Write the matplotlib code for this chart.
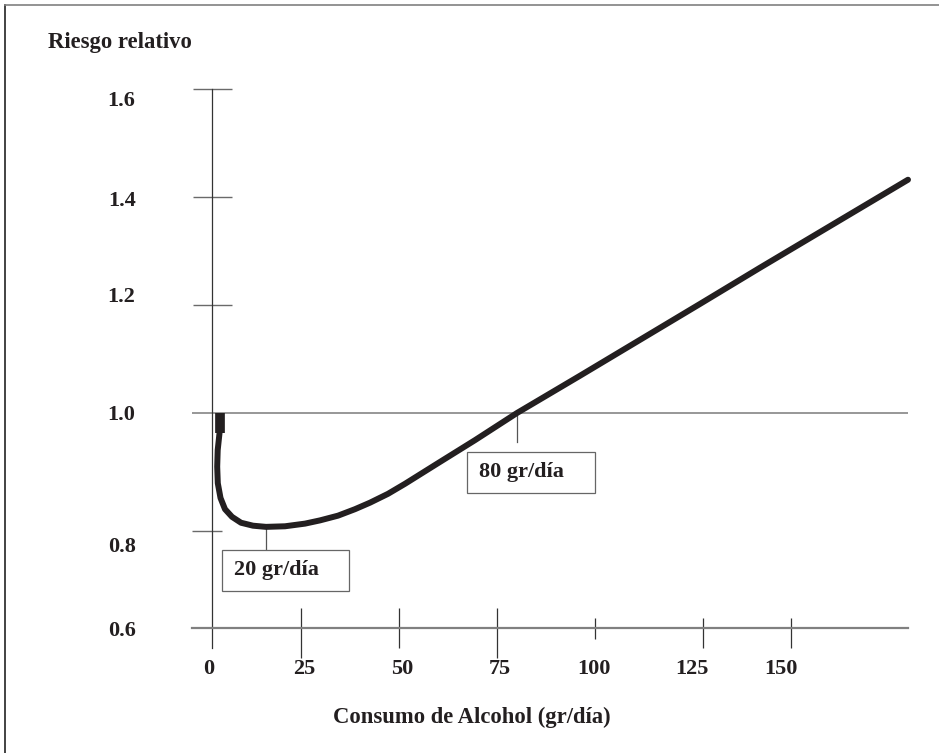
import numpy as np
import matplotlib
matplotlib.use('Agg')
import matplotlib.pyplot as plt
from matplotlib.patches import Rectangle
from matplotlib.lines import Line2D
from matplotlib.transforms import ScaledTranslation

#========================= data =========================

# curve: first pair is the thick square start at RR = 1.0
consumo = [2.11, 2.11, 1.60, 1.46, 1.63, 2.39, 3.65, 5.62, 8.15, 11.52, 15.17,
           20.51, 26.02, 29.85, 34.44, 38.78, 42.60, 47.19, 51.53, 59.95, 69.39,
           80.10, 96.17, 124.31, 141.19, 183.24]
riesgo = [1.000, 0.966, 0.937, 0.909, 0.881, 0.856, 0.837, 0.824, 0.814, 0.809, 0.807,
          0.808, 0.8125, 0.818, 0.826, 0.837, 0.848, 0.863, 0.880, 0.915, 0.954,
          1.000, 1.069, 1.202, 1.269, 1.432]

x_ticks = [0, 25, 50, 75, 100, 125, 150]
x_labels = ['0', '25', '50', '75', '100', '125', '150']
y_ticks = [0.6, 0.8, 1.0, 1.2, 1.4, 1.6]
y_labels = ['0.6', '0.8', '1.0', '1.2', '1.4', '1.6']

ref_riesgo = 1.0
ann_x = [15.17, 80.10]
ann_y = [0.807, 1.000]
ann_text = ['20 gr/día', '80 gr/día']

#========================= layout (pixels) =========================

W, H, DPI = 939, 753, 100
X0, Y0 = 212, 628                            # pixel of (0, 0.6)
x_tick_px = [0, 89, 187, 285, 383, 491, 579]  # hand drawn, uneven axis
y_tick_px = [0, 97, 215, 323, 431, 539]
x_lab_dx = [-3, 3, 3, 3, -1, -11, -10]
y_lab_dy = [0, -14, 1, 10, -1, -10]
x_tick_up = [0, 20, 20, 20, 10, 10, 10]
x_tick_down = [0, 30, 20, 30, 11, 20, 20]
y_tick_left = [0, 20, 20, 19, 19, 19]
y_tick_right = [0, 10, 0, 20, 20, 20]
# (left, top, width, height, leader) relative to the annotated point
ann_box = [(-44, 23, 127, 41, 23), (-50, 39, 128, 41, 29)]

INK = '#231f20'
FONT = 'Liberation Serif'
FS = 16

def piecewise(xp, fp):
    xp = np.asarray(xp, float)
    fp = np.asarray(fp, float)
    s0 = (fp[1] - fp[0]) / (xp[1] - xp[0])
    s1 = (fp[-1] - fp[-2]) / (xp[-1] - xp[-2])
    def f(v):
        v = np.asarray(v, float)
        out = np.interp(v, xp, fp)
        out = np.where(v < xp[0], fp[0] + (v - xp[0]) * s0, out)
        out = np.where(v > xp[-1], fp[-1] + (v - xp[-1]) * s1, out)
        return out
    return f

fx, fx_inv = piecewise(x_ticks, x_tick_px), piecewise(x_tick_px, x_ticks)
fy, fy_inv = piecewise(y_ticks, y_tick_px), piecewise(y_tick_px, y_ticks)

#========================= plotting =========================

plt.rcParams['font.family'] = FONT
plt.rcParams['font.weight'] = 'bold'

fig = plt.figure(figsize=(W / DPI, H / DPI), dpi=DPI)
L, R, T, B = 150, 930, 60, 700
ax = fig.add_axes([L / W, 1 - B / H, (R - L) / W, (B - T) / H])
ax.set_xscale('function', functions=(fx, fx_inv))
ax.set_yscale('function', functions=(fy, fy_inv))
ax.set_xlim(float(fx_inv(L - X0)), float(fx_inv(R - X0)))
ax.set_ylim(float(fy_inv(Y0 - B)), float(fy_inv(Y0 - T)))
ax.set_facecolor('none')

x_end = max(consumo)
x_left = float(fx_inv(-20))
y_low = float(fy_inv(-20))

for s in ['top', 'right']:
    ax.spines[s].set_visible(False)
ax.spines['bottom'].set_position(('data', y_ticks[0]))
ax.spines['bottom'].set_bounds(x_left, x_end)
ax.spines['bottom'].set_color('#808080')
ax.spines['bottom'].set_linewidth(1.6)
ax.spines['left'].set_position(('data', x_ticks[0]))
ax.spines['left'].set_bounds(y_low, y_ticks[-1])
ax.spines['left'].set_color('#333333')
ax.spines['left'].set_linewidth(0.9)

ax.set_xticks(x_ticks, x_labels)
ax.set_yticks(y_ticks, y_labels)
ax.minorticks_off()
ax.tick_params(axis='x', length=0, pad=22, labelsize=FS, labelcolor=INK)
ax.tick_params(axis='y', length=0, pad=55, labelsize=FS, labelcolor=INK)
for lab, dx in zip(ax.get_xticklabels(), x_lab_dx):
    lab.set_transform(lab.get_transform() + ScaledTranslation(dx / DPI, 0, fig.dpi_scale_trans))
for lab, dy in zip(ax.get_yticklabels(), y_lab_dy):
    lab.set_transform(lab.get_transform() + ScaledTranslation(0, dy / DPI, fig.dpi_scale_trans))

# hand drawn tick marks
for v, up, dn in zip(x_ticks[1:], x_tick_up[1:], x_tick_down[1:]):
    ax.vlines(v, float(fy_inv(-dn)), float(fy_inv(up)), color='#333333', lw=0.9)
for v, lf, rt in zip(y_ticks[1:], y_tick_left[1:], y_tick_right[1:]):
    if v == ref_riesgo:
        continue
    ax.hlines(v, float(fx_inv(-lf)), float(fx_inv(rt)), color='#6a6a6a', lw=1.0)

# reference line RR = 1
ax.hlines(ref_riesgo, x_left, x_end, color='#7a7a7a', lw=1.1, zorder=2)

# curve
ax.plot(consumo[:2], riesgo[:2], color=INK, lw=7, solid_capstyle='butt', zorder=4)
ax.plot(consumo[1:], riesgo[1:], color=INK, lw=4.3, solid_capstyle='round',
        solid_joinstyle='round', zorder=4)

# annotation boxes
for x, y, txt, (bl, bt, bw, bh, lead) in zip(ann_x, ann_y, ann_text, ann_box):
    at = fig.dpi_scale_trans + ScaledTranslation(x, y, ax.transData)
    ax.add_line(Line2D([0, 0], [0, -lead / DPI], transform=at, color='#555555',
                       lw=0.9, zorder=3, clip_on=False))
    ax.add_patch(Rectangle((bl / DPI, -(bt + bh) / DPI), bw / DPI, bh / DPI, transform=at,
                           facecolor='white', edgecolor='#666666', lw=0.9, zorder=3,
                           clip_on=False))
    ax.text((bl + 12) / DPI, -(bt + bh / 2) / DPI, txt, transform=at, ha='left',
            va='center', fontsize=FS, color=INK, zorder=5)

fig.text(48 / W, 1 - 48 / H, 'Riesgo relativo', ha='left', va='baseline',
         fontsize=16.3, color=INK)
fig.text(472 / W, 1 - 723 / H, 'Consumo de Alcohol (gr/día)', ha='center',
         va='baseline', fontsize=16.3, color=INK)

# frame around the figure (only left and top edges show)
fig.add_artist(Line2D([5 / W, 5 / W], [0, 1 - 5 / H], color='#222222', lw=1.2))
fig.add_artist(Line2D([5 / W, 1], [1 - 5 / H, 1 - 5 / H], color='#808080', lw=1.2))

fig.savefig('out.png', dpi=DPI)
